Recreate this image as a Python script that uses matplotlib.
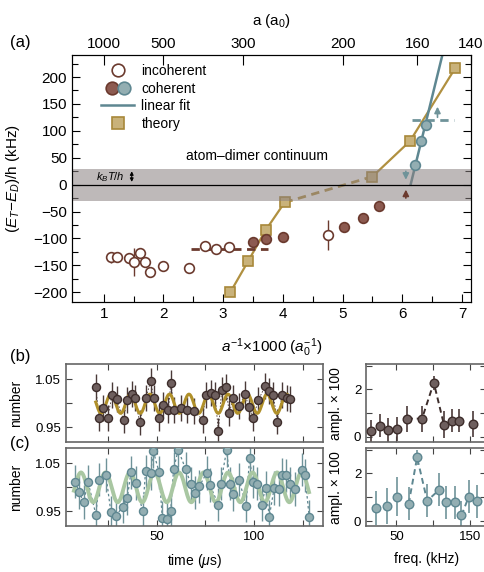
import numpy as np
import matplotlib
matplotlib.use("Agg")
import matplotlib.pyplot as plt
from matplotlib.lines import Line2D
from matplotlib.legend_handler import HandlerTuple
from matplotlib.ticker import MultipleLocator, FixedLocator

plt.rcParams['font.family'] = ['Liberation Sans', 'DejaVu Sans']
plt.rcParams['mathtext.fontset'] = 'custom'
plt.rcParams['mathtext.rm'] = 'Liberation Sans'
plt.rcParams['mathtext.it'] = 'Liberation Sans:italic'
plt.rcParams['xtick.direction'] = 'in'
plt.rcParams['ytick.direction'] = 'in'

# ---------------- panel (a) data ----------------
inc_x = [1.13, 1.22, 1.42, 1.50, 1.61, 1.69, 1.78, 1.99, 2.43, 2.69, 2.88, 3.10, 4.75]
inc_y = [-135, -134, -136, -144, -127, -143, -162, -151, -154, -114, -119, -116, -94]
inc_err = [10, 6, 8, 26, 8, 6, 6, 5, 5, 5, 5, 5, 28]

coh_brown_x = [3.50, 3.71, 4.00, 5.02, 5.35, 5.61]
coh_brown_y = [-106, -101, -97, -79, -61, -39]

coh_blue_x = [6.22, 6.32, 6.39]
coh_blue_y = [36, 81, 111]

theory_x = [3.12, 3.42, 3.71, 4.03, 5.50, 6.13, 6.89]
theory_y = [-200, -142, -85, -33, 15, 81, 217]

fit_x0 = 6.14      # zero crossing of linear fit
fit_slope = 453.0  # kHz per unit of 1000/a
fit_xend = 6.75

a_ticks = [1000, 500, 300, 200, 160, 140]

# ---------------- panel (b)/(c) time series ----------------
tb = [18.7, 20.5, 22.6, 24.8, 27.2, 29.4, 33.0, 34.7, 37.2, 38.9, 41.3, 44.5, 46.9,
      48.6, 51.3, 53.1, 56.0, 57.3, 59.0, 62.6, 65.7, 69.3, 73.6, 75.2, 78.1, 80.0,
      81.7, 83.4, 85.6, 87.3, 89.4, 92.4, 95.5, 97.3, 99.6, 102.2, 105.8, 107.6,
      109.9, 112.0, 114.5, 116.8, 118.7]
nb = [1.034, 0.969, 0.990, 0.970, 1.018, 1.008, 0.965, 1.006, 1.020, 1.010, 0.960,
      1.010, 1.046, 1.010, 0.969, 0.997, 0.985, 1.043, 0.985, 0.990, 0.985, 0.983,
      0.966, 1.018, 1.021, 1.018, 0.942, 1.027, 1.034, 0.980, 1.010, 0.994, 1.020,
      0.992, 0.969, 1.006, 1.036, 1.025, 1.018, 0.962, 1.018, 1.010, 1.008]
nb_err = 0.027

tc = [8.2, 10.2, 12.5, 14.7, 18.8, 20.5, 23.9, 26.5, 29.1, 32.5, 34.9, 36.8, 39.4,
      42.8, 44.3, 46.9, 48.3, 51.3, 52.9, 55.1, 57.2, 58.7, 61.1, 64.9, 67.5, 69.7,
      71.9, 75.7, 77.4, 81.7, 82.9, 86.0, 87.7, 89.4, 92.4, 95.9, 97.8, 99.3, 101.7,
      103.9, 106.0, 107.9, 110.4, 113.0, 114.2, 116.4, 118.5, 121.1, 124.5, 126.2,
      128.4]
nc = [1.012, 0.990, 0.969, 1.012, 0.943, 1.016, 1.026, 0.948, 0.940, 0.960, 0.978,
      1.031, 1.009, 0.950, 1.033, 1.030, 1.075, 1.031, 0.936, 0.935, 0.950, 1.038,
      1.078, 1.038, 1.008, 0.989, 1.002, 1.030, 1.005, 0.964, 1.008, 1.078, 1.008,
      0.986, 1.016, 0.962, 1.062, 1.012, 1.008, 0.964, 0.999, 0.939, 0.999, 0.997,
      1.026, 1.025, 1.008, 0.997, 1.037, 1.025, 0.939]
nc_err = 0.035

# sine fit parameters (amplitude, period in us, time of a maximum, offset, range)
fit_b = dict(amp=0.020, period=10.03, t_peak=26.5, offset=0.999, t0=18.7, t1=118.7)
fit_c = dict(amp=0.031, period=12.6, t_peak=11.1, offset=1.000, t0=7.5, t1=128.3)

# ---------------- spectra ----------------
fb = [15.9, 28.2, 39.0, 51.0, 64.6, 85.0, 101.0, 114.8, 126.4, 135.0, 154.6]
ab = [0.25, 0.48, 0.28, 0.32, 0.77, 0.77, 2.28, 0.52, 0.69, 0.69, 0.55]
ab_err = [0.45, 0.5, 0.5, 0.5, 0.55, 0.55, 0.3, 0.55, 0.5, 0.5, 0.55]

fc = [22.7, 37.3, 51.0, 66.8, 78.3, 92.0, 108.3, 118.2, 129.6, 138.7, 148.6, 160.0]
ac = [0.55, 0.64, 1.03, 0.73, 2.67, 0.85, 1.31, 0.78, 0.78, 0.24, 1.02, 0.82]
ac_err = [0.7, 0.75, 0.8, 0.7, 0.3, 0.7, 0.7, 0.7, 0.7, 0.6, 0.7, 0.7]

# colours
BROWN_EDGE = '#6b3a2e'
BROWN_FACE = '#8c5a50'
BLUE_FACE = '#93aeb2'
BLUE_EDGE = '#5e8791'
GOLD_FACE = '#c9b27a'
GOLD_EDGE = '#a8883a'
GOLD_LINE = '#b09040'
DARK_FACE = '#6e5f5e'
DARK_EDGE = '#3d2d2b'
GREEN = '#a9c7a2'

fig = plt.figure(figsize=(4.85, 5.72), dpi=100)

# ==========================================================
# panel (a)
# ==========================================================
ax = fig.add_axes([0.1485, 0.472, 0.8225, 0.431])
ax.set_xlim(0.47, 7.15)
ax.set_ylim(-218, 240)

ax.axhspan(-30, 30, color='#8a8080', alpha=0.55, lw=0, zorder=2.5)
ax.axhline(0, color='black', lw=0.9, zorder=2.6)

# theory
ax.plot(theory_x[:4], theory_y[:4], color=GOLD_LINE, lw=1.6, zorder=1.5)
ax.plot(theory_x[3:5], theory_y[3:5], color=GOLD_LINE, lw=2, ls=(0, (3, 2)), zorder=1.5)
ax.plot(theory_x[4:], theory_y[4:], color=GOLD_LINE, lw=1.6, zorder=1.5)
ax.plot(theory_x, theory_y, 's', ms=7, mfc=GOLD_FACE, mec=GOLD_EDGE, mew=1.2, zorder=2)

# linear fit
xf = np.array([fit_x0, fit_xend])
ax.plot(xf, fit_slope * (xf - fit_x0), color=BLUE_EDGE, lw=1.8, zorder=2)

ax.errorbar(inc_x, inc_y, yerr=inc_err, fmt='o', ms=7, mfc='white', mec=BROWN_EDGE,
            mew=1.2, ecolor=BROWN_EDGE, elinewidth=1, capsize=0, zorder=4)
ax.plot(coh_brown_x, coh_brown_y, 'o', ms=7, mfc=BROWN_FACE, mec=BROWN_EDGE, mew=1.2, zorder=4)
ax.plot(coh_blue_x, coh_blue_y, 'o', ms=7, mfc=BLUE_FACE, mec=BLUE_EDGE, mew=1.2, zorder=4)

# dashed thresholds and arrows
ax.plot([2.47, 3.76], [-120, -120], color=BROWN_EDGE, lw=2, ls=(0, (3, 2)), zorder=3)
ax.plot([6.17, 6.86], [120, 120], color='#6f9399', lw=2, ls=(0, (3, 2)), zorder=3)
ax.annotate('', xy=(6.59, 150), xytext=(6.59, 120),
            arrowprops=dict(arrowstyle='-|>', color='#6f9399', lw=1.2, mutation_scale=9), zorder=5)
ax.annotate('', xy=(6.06, 4), xytext=(6.06, 30),
            arrowprops=dict(arrowstyle='-|>', color='#6f9399', lw=1.2, mutation_scale=9), zorder=5)
ax.annotate('', xy=(6.06, -4), xytext=(6.06, -30),
            arrowprops=dict(arrowstyle='-|>', color=BROWN_EDGE, lw=1.2, mutation_scale=9), zorder=5)
ax.annotate('', xy=(1.47, 30), xytext=(1.47, 0),
            arrowprops=dict(arrowstyle='<|-|>', color='black', lw=0.8, mutation_scale=5), zorder=5)
ax.text(0.87, 14, r'$k_B T/h$', fontsize=8, ha='left', va='center', zorder=5)
ax.text(3.56, 54, 'atom\u2013dimer continuum', fontsize=10, ha='center', va='center')

ax.xaxis.set_major_locator(FixedLocator([1, 2, 3, 4, 5, 6, 7]))
ax.xaxis.set_minor_locator(FixedLocator([1.5, 2.5, 3.5, 4.5, 5.5, 6.5]))
ax.yaxis.set_major_locator(MultipleLocator(50))
ax.yaxis.set_minor_locator(MultipleLocator(25))
ax.tick_params(which='both', right=True, top=False, labelsize=11, width=0.8)
ax.tick_params(which='major', length=6)
ax.tick_params(which='minor', length=4)
ax.set_xlabel(r'$a^{-1}$×1000 ($a_0^{-1}$)', fontsize=11)
ax.xaxis.set_label_coords(0.501, -0.138)
ax.set_ylabel(r'($E_T$−$E_D$)/h (kHz)', fontsize=11)
ax.yaxis.set_label_coords(-0.125, 0.5)

top = ax.twiny()
top.set_xlim(ax.get_xlim())
top.set_xticks([1000.0 / a for a in a_ticks])
top.set_xticklabels([str(a) for a in a_ticks])
top.tick_params(axis='x', direction='in', length=7, width=0.8, labelsize=11)
top.set_xlabel('a (a$_0$)', fontsize=11)
top.xaxis.set_label_coords(0.501, 1.124)

handles = [
    Line2D([], [], ls='none', marker='o', ms=7, mfc='white', mec=BROWN_EDGE, mew=1.2),
    (Line2D([], [], ls='none', marker='o', ms=7, mfc=BROWN_FACE, mec=BROWN_EDGE, mew=1.2),
     Line2D([], [], ls='none', marker='o', ms=7, mfc=BLUE_FACE, mec=BLUE_EDGE, mew=1.2)),
    Line2D([], [], color=BLUE_EDGE, lw=1.8),
    Line2D([], [], ls='none', marker='s', ms=7, mfc=GOLD_FACE, mec=GOLD_EDGE, mew=1.2),
]
ax.legend(handles, ['incoherent', 'coherent', 'linear fit', 'theory'],
          handler_map={tuple: HandlerTuple(ndivide=None, pad=-0.6)},
          loc='upper left', bbox_to_anchor=(0.073, 0.965), frameon=False,
          fontsize=10, markerscale=1.3, handlelength=2.4, handletextpad=0.5,
          labelspacing=0.25, borderpad=0, borderaxespad=0)

fig.text(0.02, 0.925, '(a)', fontsize=12, va='center')
fig.text(0.02, 0.376, '(b)', fontsize=12, va='center')
fig.text(0.02, 0.225, '(c)', fontsize=12, va='center')


# ==========================================================
# panels (b), (c)
# ==========================================================
def sine(p):
    t = np.linspace(p['t0'], p['t1'], 600)
    return t, p['offset'] + p['amp'] * np.cos(2 * np.pi * (t - p['t_peak']) / p['period'])


def style_small(a, spine_col='#666666'):
    for s in a.spines.values():
        s.set_color(spine_col)
        s.set_linewidth(1.2)
    a.tick_params(which='both', top=True, right=True, labelsize=9.5, width=0.8,
                  color='#444444')
    a.tick_params(which='major', length=4)
    a.tick_params(which='minor', length=4)


time_axes = []
for i, (bot, tt, nn, err, fp, face, edge, ecol, lcol, lw_dash, fitcol) in enumerate([
        (0.227, tb, nb, nb_err, fit_b, DARK_FACE, DARK_EDGE, '#4a3a38', '#4a3a38', 0.6, '#b0902a'),
        (0.080, tc, nc, nc_err, fit_c, BLUE_FACE, BLUE_EDGE, '#6f9399', '#5e8791', 0.9, GREEN)]):
    ta = fig.add_axes([0.136, bot, 0.530, 0.136])
    ta.set_xlim(3.4, 135.5)
    ta.set_ylim(0.919, 1.081)
    ta.plot(tt, nn, color=lcol, lw=lw_dash, ls=(0, (2, 2)), zorder=1)
    ta.errorbar(tt, nn, yerr=err, fmt='none', ecolor=ecol, elinewidth=1, zorder=2)
    ts, ys = sine(fp)
    ta.plot(ts, ys, color=fitcol, lw=2.2 if i == 0 else 2.8, zorder=3)
    ta.plot(tt, nn, 'o', ms=5.8, mfc=face, mec=edge, mew=1, zorder=4, clip_on=True)
    ta.xaxis.set_major_locator(FixedLocator([50, 100]))
    ta.xaxis.set_minor_locator(FixedLocator([25, 75, 125]))
    ta.yaxis.set_major_locator(FixedLocator([0.95, 1.05]))
    ta.yaxis.set_minor_locator(FixedLocator([1.0]))
    ta.set_yticklabels(['0.95', '1.05'])
    style_small(ta)
    ta.set_ylabel('number', fontsize=10)
    ta.yaxis.set_label_coords(-0.167, 0.5)
    if i == 0:
        ta.tick_params(labelbottom=False)
    time_axes.append(ta)

time_axes[1].set_xlabel(r'time ($\mu$s)', fontsize=10)
time_axes[1].xaxis.set_label_coords(0.5, -0.33)

for i, (bot, ff, aa, err, face, edge, ecol, segs) in enumerate([
        (0.227, fb, ab, ab_err, DARK_FACE, DARK_EDGE, '#4a3a38', [(4, 8)]),
        (0.080, fc, ac, ac_err, BLUE_FACE, BLUE_EDGE, '#6f9399', [(3, 7), (9, 11)])]):
    fa = fig.add_axes([0.755, bot, 0.247, 0.136])
    fa.set_xlim(9, 172)
    fa.set_ylim(-0.22, 3.05)
    for s0, s1 in segs:
        fa.plot(ff[s0:s1], aa[s0:s1], color=edge, lw=1.4, ls=(0, (3, 2)), zorder=1)
    fa.errorbar(ff, aa, yerr=err, fmt='none', ecolor=ecol, elinewidth=1.2, zorder=2)
    fa.plot(ff, aa, 'o', ms=6.2, mfc=face, mec=edge, mew=1, zorder=4)
    fa.xaxis.set_major_locator(FixedLocator([50, 150]))
    fa.xaxis.set_minor_locator(FixedLocator([100]))
    fa.yaxis.set_major_locator(FixedLocator([0, 2]))
    fa.yaxis.set_minor_locator(FixedLocator([1, 3]))
    style_small(fa)
    fa.set_ylabel('ampl. × 100', fontsize=10)
    fa.yaxis.set_label_coords(-0.19, 0.5)
    if i == 0:
        fa.tick_params(labelbottom=False)
    else:
        fa.set_xlabel('freq. (kHz)', fontsize=10)
        fa.xaxis.set_label_coords(0.5, -0.33)

fig.savefig('out.png', dpi=100)
